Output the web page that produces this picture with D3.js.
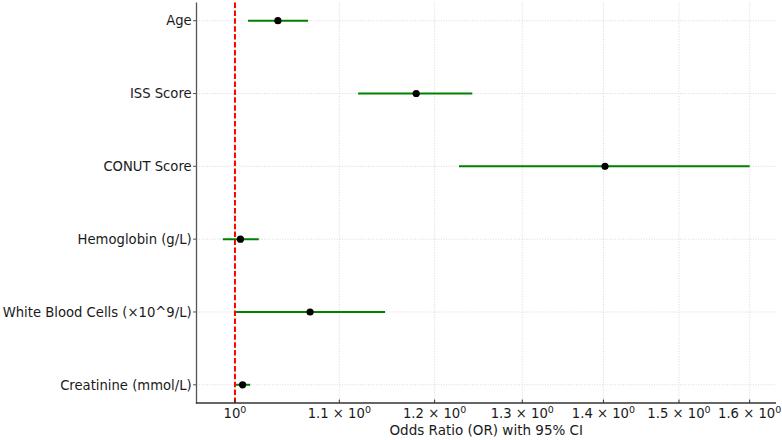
<!DOCTYPE html>
<html><head><meta charset="utf-8">
<script src="https://cdn.jsdelivr.net/npm/d3@7"></script>
<style>body{margin:0;background:#fff}svg{display:block}text{font-family:"DejaVu Sans",sans-serif;fill:#1a1a1a}</style>
</head><body><svg id="c" width="782" height="440"></svg>
<script>
const categories = ["Age","ISS Score","CONUT Score","Hemoglobin (g/L)","White Blood Cells (\u00d710^9/L)","Creatinine (mmol/L)"];
const oddsRatio = [1.040, 1.180, 1.402, 1.005, 1.071, 1.007];
const ciLower   = [1.012, 1.119, 1.227, 0.989, 1.001, 1.001];
const ciUpper   = [1.069, 1.242, 1.600, 1.022, 1.147, 1.014];
const xTicks = [1.0, 1.1, 1.2, 1.3, 1.4, 1.5, 1.6];
const xTickMantissa = ["", "1.1", "1.2", "1.3", "1.4", "1.5", "1.6"];
const xTitle = "Odds Ratio (OR) with 95% CI";

const svg = d3.select("#c");
const L = 196.5, R = 776, T = 2.5, B = 403;
const lmin = Math.log(d3.min(ciLower)), lmax = Math.log(d3.max(ciUpper));
const pad = (lmax - lmin) * 0.05;
const x = d3.scaleLog().domain([Math.exp(lmin - pad), Math.exp(lmax + pad)]).range([L, R]);
const n = categories.length;
const y = d3.scaleLinear().domain([-0.25, n - 0.75]).range([T, B]);

// grid
const g = svg.append("g");
xTicks.forEach(t => {
  g.append("line").attr("x1", x(t)).attr("x2", x(t)).attr("y1", T).attr("y2", B)
    .attr("stroke", "#cfcfcf").attr("stroke-width", 0.8).attr("stroke-dasharray", "1,1.6");
});
categories.forEach((c, i) => {
  g.append("line").attr("x1", L).attr("x2", R).attr("y1", y(i)).attr("y2", y(i))
    .attr("stroke", "#cfcfcf").attr("stroke-width", 0.8).attr("stroke-dasharray", "1,1.6");
});

// reference line
svg.append("line").attr("x1", x(1)).attr("x2", x(1)).attr("y1", T).attr("y2", B)
  .attr("stroke", "#ff0000").attr("stroke-width", 2).attr("stroke-dasharray", "5.5,2.4");

// CI lines
svg.append("g").selectAll("line").data(categories).join("line")
  .attr("x1", (d, i) => x(ciLower[i])).attr("x2", (d, i) => x(ciUpper[i]))
  .attr("y1", (d, i) => y(i)).attr("y2", (d, i) => y(i))
  .attr("stroke", "#008000").attr("stroke-width", 2);

// points
svg.append("g").selectAll("circle").data(categories).join("circle")
  .attr("cx", (d, i) => x(oddsRatio[i])).attr("cy", (d, i) => y(i)).attr("r", 3.6)
  .attr("fill", "#000");

// spines
svg.append("line").attr("x1", L).attr("x2", L).attr("y1", T).attr("y2", B + 0.6)
  .attr("stroke", "#555").attr("stroke-width", 1.3);
svg.append("line").attr("x1", L - 0.6).attr("x2", R).attr("y1", B).attr("y2", B)
  .attr("stroke", "#333").attr("stroke-width", 1.3);

// y ticks & labels
categories.forEach((c, i) => {
  svg.append("line").attr("x1", L - 3.5).attr("x2", L).attr("y1", y(i)).attr("y2", y(i))
    .attr("stroke", "#555").attr("stroke-width", 1);
  svg.append("text").attr("x", L - 4.8).attr("y", y(i)).attr("dy", "0.36em")
    .attr("text-anchor", "end").attr("font-size", 13.2).text(c);
});

// x ticks & labels
xTicks.forEach((t, i) => {
  svg.append("line").attr("x1", x(t)).attr("x2", x(t)).attr("y1", B).attr("y2", B - 3.5)
    .attr("stroke", "#333").attr("stroke-width", 1);
  const txt = svg.append("text").attr("x", x(t)).attr("y", 418).attr("text-anchor", "middle").attr("font-size", 13.2);
  if (xTickMantissa[i]) txt.append("tspan").text(xTickMantissa[i] + " \u00d7 ");
  txt.append("tspan").text("10");
  txt.append("tspan").attr("dy", -5.5).attr("font-size", 9.5).text("0");
});

svg.append("text").attr("x", (L + R) / 2).attr("y", 434.5).attr("text-anchor", "middle")
  .attr("font-size", 13.5).text(xTitle);
</script></body></html>
